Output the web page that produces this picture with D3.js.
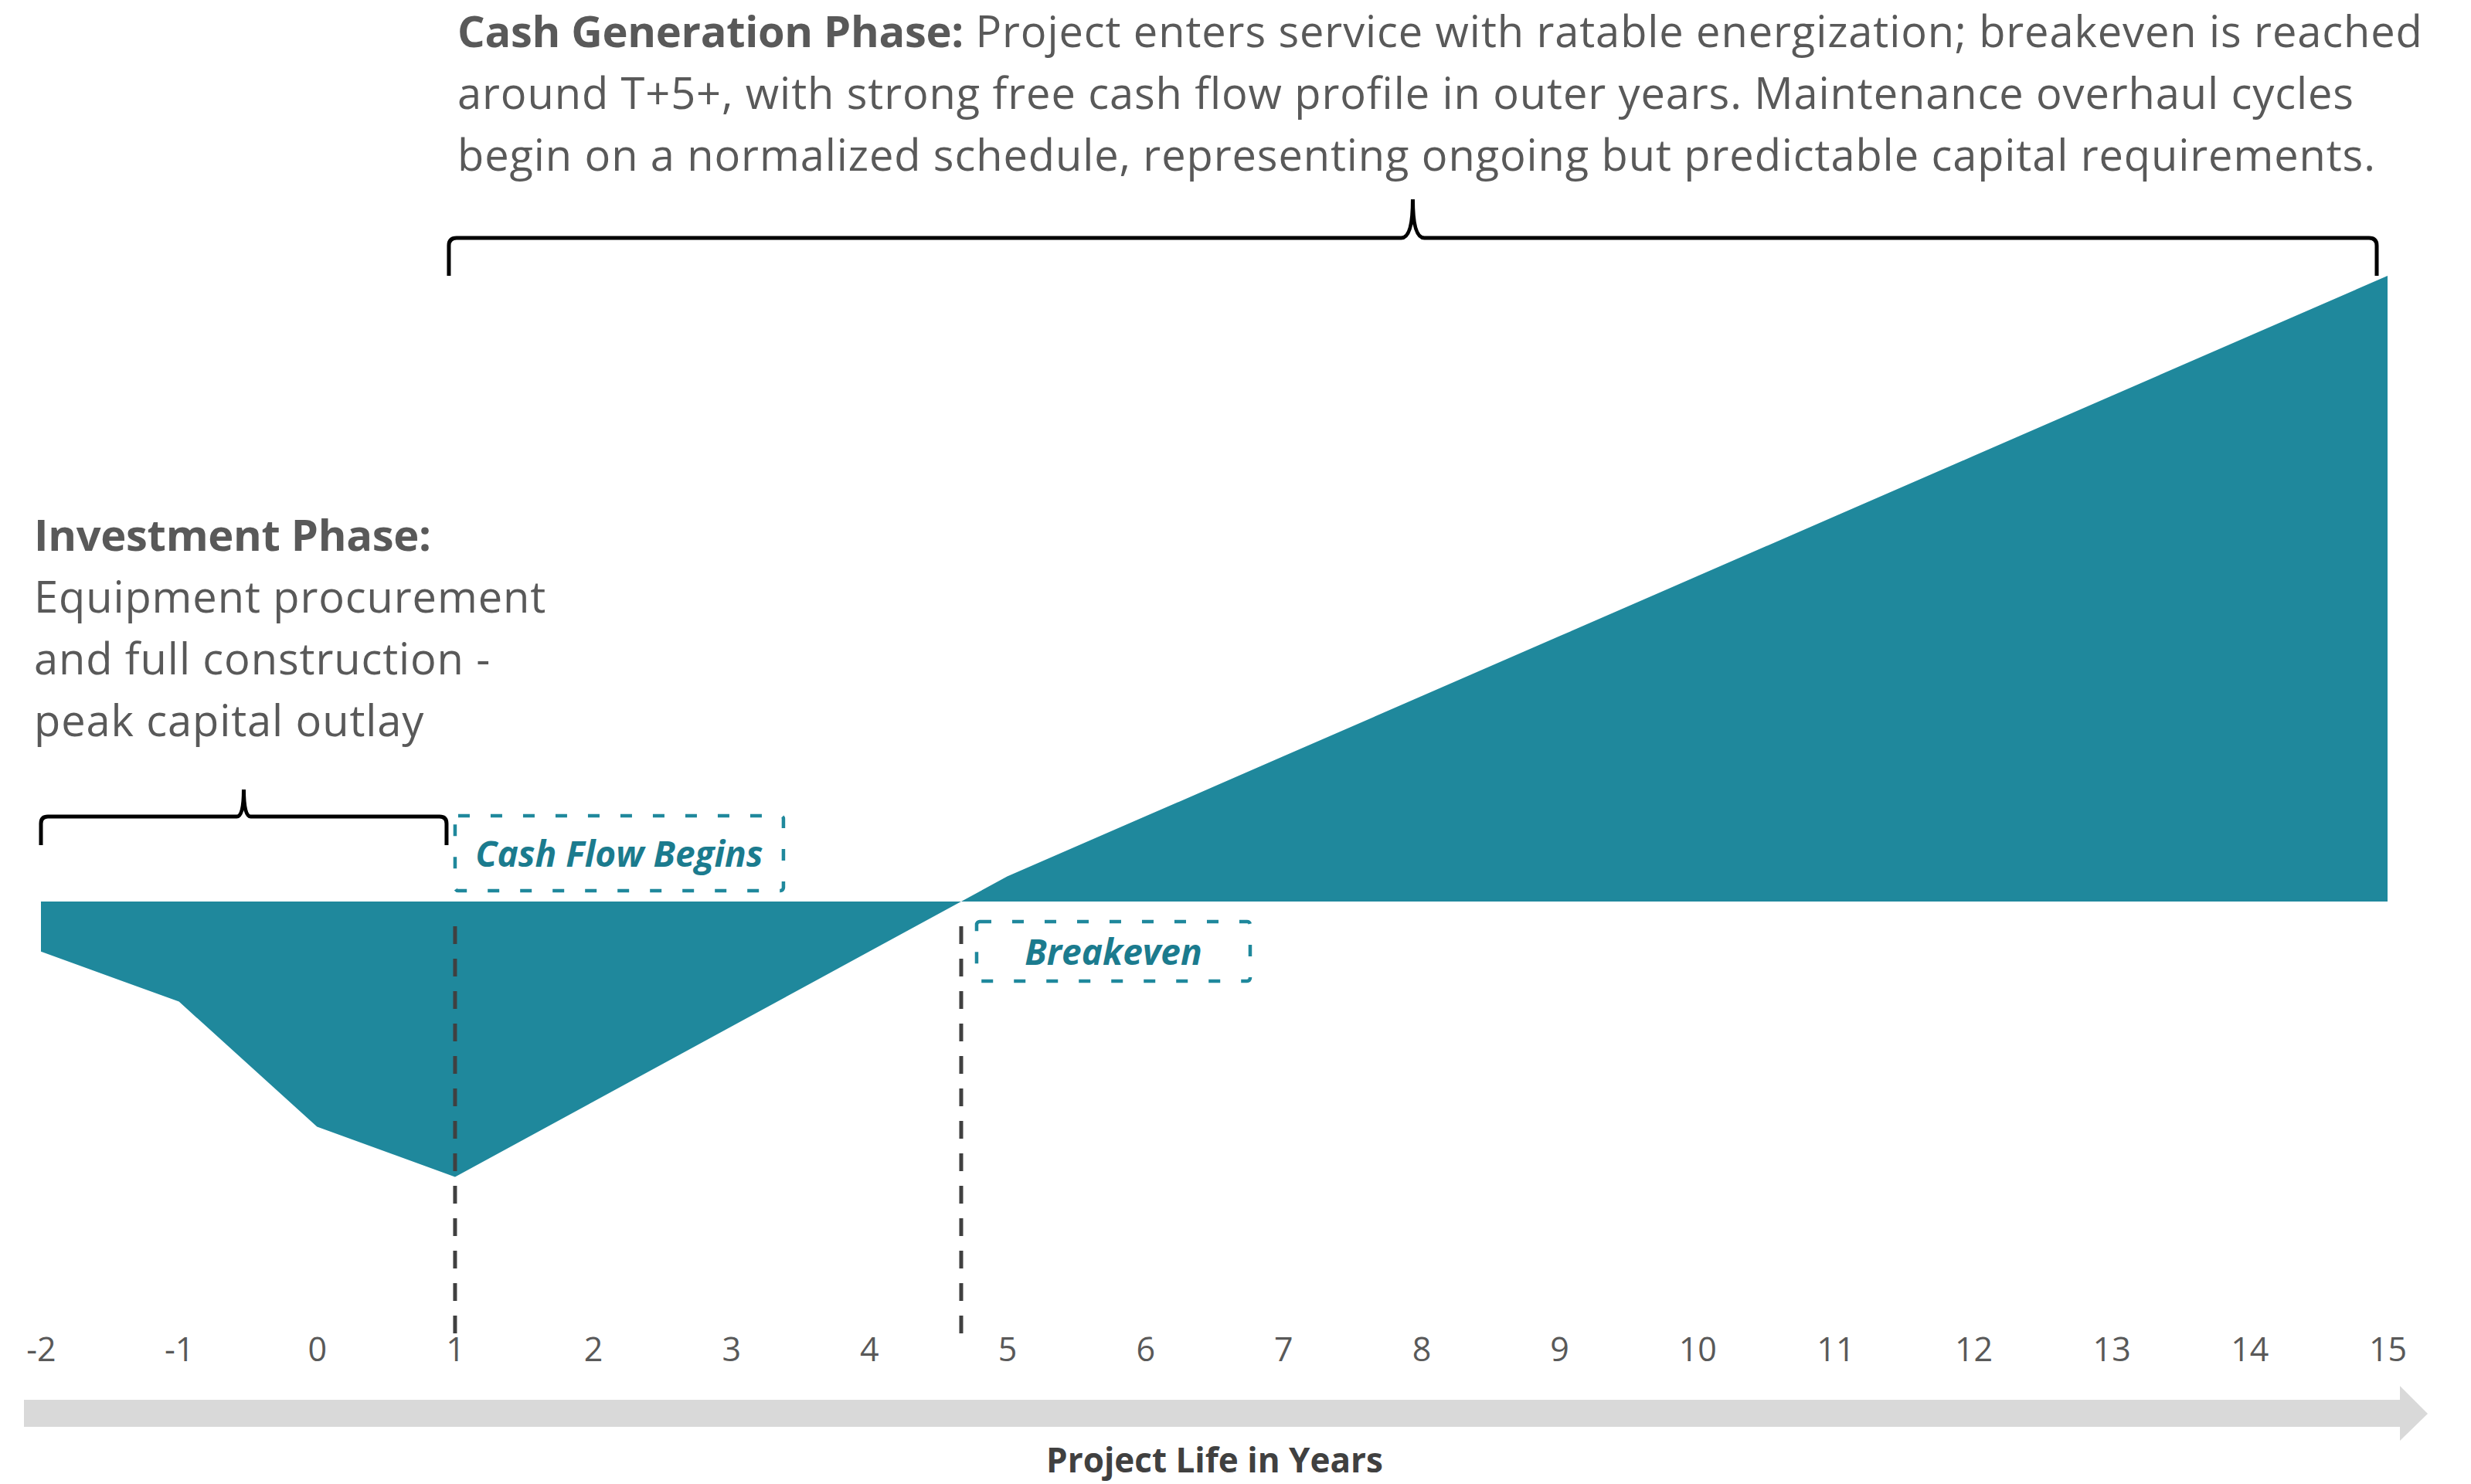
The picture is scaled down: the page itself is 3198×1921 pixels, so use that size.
<!DOCTYPE html>
<html>
<head>
<meta charset="utf-8">
<script src="https://cdn.jsdelivr.net/npm/d3@7"></script>
<style>
  html, body { margin: 0; padding: 0; background: #ffffff; }
  svg { display: block; }
</style>
</head>
<body>
<svg id="chart" width="3198" height="1921"></svg>
<script>
// ---- data ----
const years = [-2, -1, 0, 1, 2, 3, 4, 5, 6, 7, 8, 9, 10, 11, 12, 13, 14, 15];
const cumulativeCash = [-10, -20, -45, -55, -40, -25, -10, 5, 17, 29, 41, 53, 65, 77, 89, 101, 113, 125];
const tickLabels = ["-2", "-1", "0", "1", "2", "3", "4", "5", "6", "7", "8", "9", "10", "11", "12", "13", "14", "15"];
const axisTitle = "Project Life in Years";
const investTitle = "Investment Phase:";
const investLines = ["Equipment procurement", "and full construction -", "peak capital outlay"];
const cashTitle = "Cash Generation Phase:";
const cashLines = [
  " Project enters service with ratable energization; breakeven is reached",
  "around T+5+, with strong free cash flow profile in outer years. Maintenance overhaul cycles",
  "begin on a normalized schedule, representing ongoing but predictable capital requirements."
];
const cashFlowStartYear = 1;
const cashFlowLabel = "Cash Flow Begins";
const breakevenLabel = "Breakeven";

// ---- setup ----
const FONT = "'Open Sans', 'Noto Sans', sans-serif";
const TEAL = "#1f889c";
const TEAL_TEXT = "#1b7b8e";
const GRAY_TEXT = "#595959";

const svg = d3.select("#chart");
const data = years.map((yr, i) => ({ year: yr, value: cumulativeCash[i] }));

const x = d3.scaleLinear().domain([-2, 15]).range([53, 3090]);
const y = d3.scaleLinear().domain([-55, 125]).range([1523.4, 357]);

// breakeven: interpolated zero crossing
let breakeven = null;
for (let i = 1; i < data.length; i++) {
  if (data[i - 1].value < 0 && data[i].value >= 0) {
    const a = data[i - 1], b = data[i];
    breakeven = a.year + (0 - a.value) / (b.value - a.value) * (b.year - a.year);
    break;
  }
}

// ---- area ----
const area = d3.area()
  .x(d => x(d.year))
  .y0(y(0))
  .y1(d => y(d.value));

svg.append("path")
  .datum(data)
  .attr("d", area)
  .attr("fill", TEAL);

// ---- vertical dashed markers ----
[cashFlowStartYear, breakeven].forEach(v => {
  svg.append("line")
    .attr("x1", x(v)).attr("x2", x(v))
    .attr("y1", 1199).attr("y2", 1727)
    .attr("stroke", "#404040")
    .attr("stroke-width", 5)
    .attr("stroke-dasharray", "23 19");
});

// ---- annotation boxes ----
function labelBox(x0, y0, w, h, label, baseline) {
  svg.append("rect")
    .attr("x", x0).attr("y", y0)
    .attr("width", w).attr("height", h)
    .attr("rx", 4).attr("ry", 4)
    .attr("fill", "none")
    .attr("stroke", TEAL)
    .attr("stroke-width", 4.5)
    .attr("stroke-dasharray", "15 27");
  svg.append("text")
    .attr("x", x0 + w / 2)
    .attr("y", baseline)
    .attr("text-anchor", "middle")
    .attr("font-family", FONT)
    .attr("font-weight", 700)
    .attr("font-style", "italic")
    .attr("font-size", 46)
    .attr("fill", TEAL_TEXT)
    .text(label);
}
labelBox(x(cashFlowStartYear), 1056, 425, 97, cashFlowLabel, 1122);
labelBox(x(breakeven) + 20, 1193, 354, 77, breakevenLabel, 1249);

// ---- braces ----
function brace(x0, x1, yH, depth, peak, r, pw) {
  const m = (x0 + x1) / 2;
  return `M${x0},${yH + depth} L${x0},${yH + r} Q${x0},${yH} ${x0 + r},${yH} ` +
    `L${m - pw},${yH} Q${m},${yH} ${m},${yH - peak} Q${m},${yH} ${m + pw},${yH} ` +
    `L${x1 - r},${yH} Q${x1},${yH} ${x1},${yH + r} L${x1},${yH + depth}`;
}
svg.append("path")
  .attr("d", brace(x(-2), x(cashFlowStartYear) - 11, 1057, 37, 35, 9, 9))
  .attr("fill", "none").attr("stroke", "#000").attr("stroke-width", 5);
svg.append("path")
  .attr("d", brace(x(cashFlowStartYear) - 8, x(15) - 14, 308, 49, 50, 10, 15))
  .attr("fill", "none").attr("stroke", "#000").attr("stroke-width", 5);

// ---- phase texts ----
const inv = svg.append("text")
  .attr("font-family", FONT)
  .attr("font-size", 56)
  .attr("fill", GRAY_TEXT);
inv.append("tspan").attr("x", 44).attr("y", 713).attr("font-weight", 700)
  .attr("letter-spacing", -0.3).text(investTitle);
investLines.forEach((l, i) => {
  inv.append("tspan").attr("x", 44).attr("y", 793 + i * 80)
    .attr("letter-spacing", 0.9).text(l);
});

const cash = svg.append("text")
  .attr("font-family", FONT)
  .attr("font-size", 56)
  .attr("fill", GRAY_TEXT);
const l1 = cash.append("tspan").attr("x", 592).attr("y", 61);
l1.append("tspan").attr("font-weight", 700).attr("letter-spacing", -0.3).text(cashTitle);
l1.append("tspan").attr("letter-spacing", 0.9).text(cashLines[0]);
cash.append("tspan").attr("x", 592).attr("y", 141).attr("letter-spacing", 0.9).text(cashLines[1]);
cash.append("tspan").attr("x", 592).attr("y", 221).attr("letter-spacing", 0.9).text(cashLines[2]);

// ---- axis ----
const axis = d3.axisBottom(x)
  .tickValues(years)
  .tickFormat((d, i) => tickLabels[i])
  .tickSize(0)
  .tickPadding(0);
const gAxis = svg.append("g")
  .attr("transform", "translate(0,1731)")
  .call(axis);
gAxis.select(".domain").remove();
gAxis.selectAll("text")
  .attr("font-family", FONT)
  .attr("font-size", 43)
  .attr("fill", GRAY_TEXT);

// ---- timeline arrow ----
const arrowPts = [[31, 1812], [3106, 1812], [3106, 1794], [3142, 1830], [3106, 1865], [3106, 1847], [31, 1847]];
svg.append("path")
  .attr("d", d3.line()(arrowPts) + "Z")
  .attr("fill", "#d9d9d9");

svg.append("text")
  .attr("x", 1572)
  .attr("y", 1906)
  .attr("text-anchor", "middle")
  .attr("font-family", FONT)
  .attr("font-weight", 700)
  .attr("font-size", 44)
  .attr("fill", "#404040")
  .text(axisTitle);
</script>
</body>
</html>
